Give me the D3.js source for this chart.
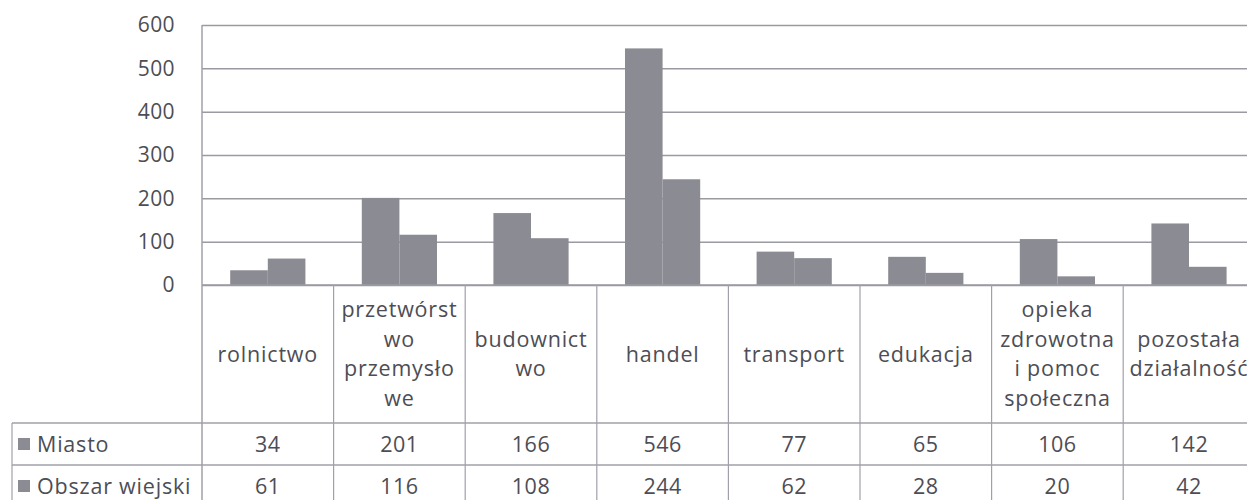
<!DOCTYPE html>
<html lang="pl">
  <head>
    <meta charset="utf-8" />
    <title>Wykres</title>
    <script src="https://d3js.org/d3.v7.min.js"></script>
    <style>
      body { margin: 0; background: #fff; }
      text { font-family: "Open Sans", sans-serif; fill: #4d4d55; }
    </style>
  </head>
  <body>
    <div id="chart"></div>
    <script>
      // data
      const categories = [
        "rolnictwo",
        "przetwórstwo przemysłowe",
        "budownictwo",
        "handel",
        "transport",
        "edukacja",
        "opieka zdrowotna i pomoc społeczna",
        "pozostała działalność",
      ];
      const categoryLines = [
        ["rolnictwo"],
        ["przetwórst", "wo", "przemysło", "we"],
        ["budownict", "wo"],
        ["handel"],
        ["transport"],
        ["edukacja"],
        ["opieka", "zdrowotna", "i pomoc", "społeczna"],
        ["pozostała", "działalność"],
      ];
      const seriesNames = ["Miasto", "Obszar wiejski"];
      const miasto = [34, 201, 166, 546, 77, 65, 106, 142];
      const obszarWiejski = [61, 116, 108, 244, 62, 28, 20, 42];
      const yTicks = [0, 100, 200, 300, 400, 500, 600];

      const cW = 1247,
        cH = 500,
        cLeft = 202,
        cTop = 25,
        cZero = 285,
        cColW = 131.6,
        cHeadBottom = 423,
        cRow1Bottom = 465,
        cRowH = 42,
        cTableLeft = 12;
      const cRight = cLeft + cColW * categories.length;
      const cBar = "#8b8b93",
        cGrid = "#9a9aa2",
        cBorder = "#a0a0aa";

      const svg = d3
        .select("#chart")
        .append("svg")
        .attr("width", cW)
        .attr("height", cH);

      const x = d3
        .scaleBand()
        .domain(categories)
        .range([cLeft, cRight])
        .padding(0);
      const x1 = d3
        .scaleBand()
        .domain(seriesNames)
        .range([0, x.bandwidth()])
        .paddingInner(0)
        .paddingOuter(0.75);
      const y = d3.scaleLinear().domain([0, 600]).range([cZero, cTop]);

      //gridlines
      const grid = svg
        .append("g")
        .attr("transform", `translate(${cLeft},0)`)
        .call(
          d3
            .axisLeft(y)
            .tickValues(yTicks)
            .tickSize(-(cRight - cLeft))
            .tickFormat("")
        );
      grid.select(".domain").remove();
      grid.selectAll("line").attr("stroke", cGrid).attr("stroke-width", 1.5);

      //y labels
      const yAxis = svg
        .append("g")
        .attr("transform", `translate(${cLeft},0)`)
        .call(
          d3
            .axisLeft(y)
            .tickValues(yTicks)
            .tickSize(0)
            .tickPadding(27)
        );
      yAxis.select(".domain").remove();
      yAxis
        .selectAll("text")
        .style("font-size", "21px")
        .style("font-family", "'Open Sans', sans-serif")
        .style("letter-spacing", "0.4px")
        .attr("fill", "#4d4d55");

      //bars
      const values = [miasto, obszarWiejski];
      const barData = [];
      categories.forEach((c, i) => {
        seriesNames.forEach((s, j) => {
          barData.push({ cat: c, series: s, value: values[j][i] });
        });
      });
      svg
        .append("g")
        .selectAll("rect")
        .data(barData)
        .enter()
        .append("rect")
        .attr("x", (d) => x(d.cat) + x1(d.series))
        .attr("width", x1.bandwidth())
        .attr("y", (d) => y(d.value))
        .attr("height", (d) => y(0) - y(d.value))
        .attr("fill", cBar);

      //data table
      const table = svg.append("g");
      // horizontal borders
      [cHeadBottom, cRow1Bottom].forEach((yy) => {
        table
          .append("line")
          .attr("x1", cTableLeft)
          .attr("x2", cRight)
          .attr("y1", yy)
          .attr("y2", yy)
          .attr("stroke", cBorder)
          .attr("stroke-width", 1.5);
      });
      table
        .append("line")
        .attr("x1", cLeft)
        .attr("x2", cRight)
        .attr("y1", cZero)
        .attr("y2", cZero)
        .attr("stroke", cGrid)
        .attr("stroke-width", 1.5);
      // vertical borders
      table
        .append("line")
        .attr("x1", cLeft)
        .attr("x2", cLeft)
        .attr("y1", cTop)
        .attr("y2", cH)
        .attr("stroke", cBorder)
        .attr("stroke-width", 1.5);
      table
        .append("line")
        .attr("x1", cTableLeft)
        .attr("x2", cTableLeft)
        .attr("y1", cHeadBottom)
        .attr("y2", cH)
        .attr("stroke", cBorder)
        .attr("stroke-width", 1.2);
      table
        .selectAll(".vsep")
        .data(categories)
        .enter()
        .append("line")
        .attr("class", "vsep")
        .attr("x1", (d) => x(d) + x.bandwidth())
        .attr("x2", (d) => x(d) + x.bandwidth())
        .attr("y1", cZero)
        .attr("y2", cH)
        .attr("stroke", cBorder)
        .attr("stroke-width", 1.2);

      // header labels
      const cLineH = 29.5,
        cHeadMid = 354;
      const headers = table
        .selectAll(".head")
        .data(categories)
        .enter()
        .append("text")
        .attr("class", "head")
        .attr("text-anchor", "middle")
        .style("font-size", "21.5px")
        .style("letter-spacing", "0.8px");
      headers.each(function (d, i) {
        const lines = categoryLines[i];
        const y0 = cHeadMid - ((lines.length - 1) * cLineH) / 2;
        d3.select(this)
          .selectAll("tspan")
          .data(lines)
          .enter()
          .append("tspan")
          .attr("x", x(d) + x.bandwidth() / 2)
          .attr("y", (l, k) => y0 + k * cLineH)
          .attr("dy", "0.35em")
          .text((l) => l);
      });

      // series rows
      seriesNames.forEach((s, j) => {
        const yMid = cHeadBottom + cRowH * j + cRowH / 2;
        table
          .append("rect")
          .attr("x", 18)
          .attr("y", yMid - 6)
          .attr("width", 12)
          .attr("height", 12)
          .attr("fill", cBar);
        table
          .append("text")
          .attr("x", 37)
          .attr("y", yMid)
          .attr("dy", "0.35em")
          .style("font-size", "21.5px")
          .style("letter-spacing", "0.8px")
          .text(s);
        table
          .selectAll(".val" + j)
          .data(values[j])
          .enter()
          .append("text")
          .attr("x", (d, i) => x(categories[i]) + x.bandwidth() / 2)
          .attr("y", yMid)
          .attr("dy", "0.35em")
          .attr("text-anchor", "middle")
          .style("font-size", "21.5px")
          .style("letter-spacing", "0.5px")
          .text((d) => d);
      });
    </script>
  </body>
</html>
